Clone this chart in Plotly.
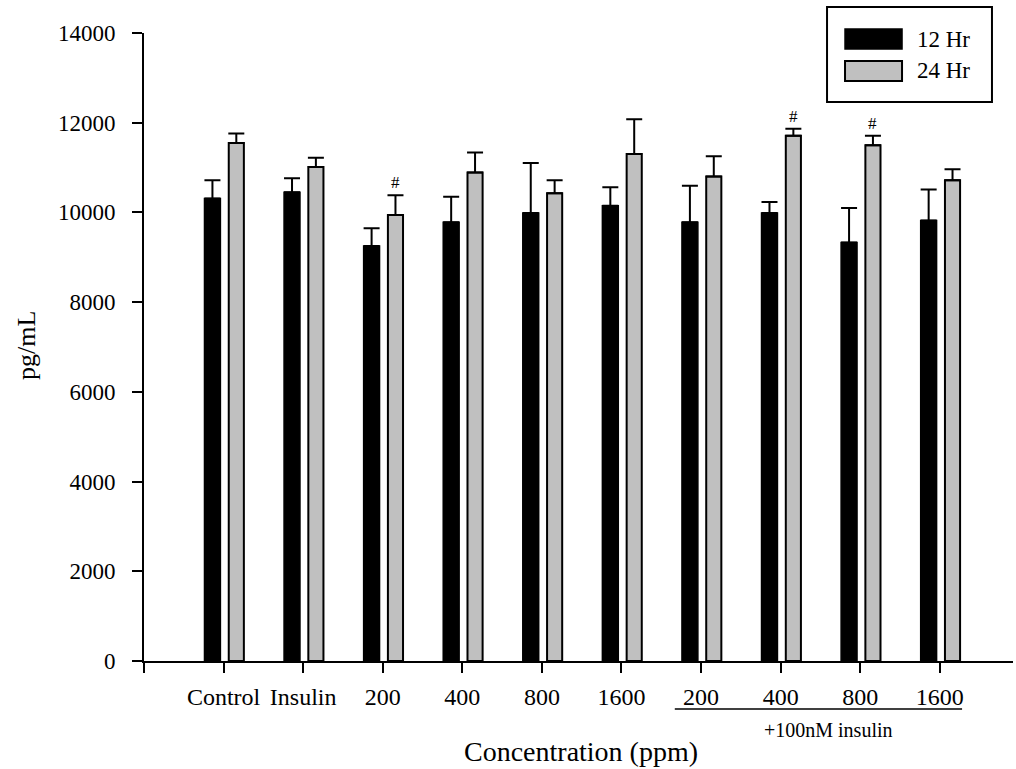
import plotly.graph_objects as go

# Treatment groups along the x axis (last four are co-treated with insulin)
categories = ["Control", "Insulin", "200", "400", "800", "1600", "200", "400", "800", "1600"]
series_names = ["12 Hr", "24 Hr"]

# Mean concentration (pg/mL) and upper error (SD) per group
values_12h = [10310, 10450, 9250, 9780, 9990, 10150, 9780, 9990, 9330, 9820]
errors_12h = [410, 310, 400, 570, 1110, 410, 815, 240, 770, 690]
values_24h = [11550, 11010, 9940, 10890, 10430, 11300, 10800, 11710, 11500, 10715]
errors_24h = [210, 210, 445, 445, 290, 780, 455, 155, 210, 250]

# Groups marked as significant at 24 h
significant_24h = [2, 7, 8]

FONT = "Liberation Serif"
GREY = "#c0c0c0"

x_pos = list(range(len(categories)))

fig = go.Figure()

fig.add_trace(go.Bar(
    x=x_pos, y=values_12h, name=series_names[0],
    width=0.2, offset=-0.24,
    marker=dict(color="black", line=dict(color="black", width=1.5)),
    error_y=dict(type="data", array=errors_12h, arrayminus=[0] * len(errors_12h),
                 symmetric=False, color="black", thickness=2, width=8),
    showlegend=False,
))
fig.add_trace(go.Bar(
    x=x_pos, y=values_24h, name=series_names[1],
    width=0.19, offset=0.065,
    marker=dict(color=GREY, line=dict(color="black", width=2)),
    error_y=dict(type="data", array=errors_24h, arrayminus=[0] * len(errors_24h),
                 symmetric=False, color="black", thickness=2, width=8),
    showlegend=False,
))

annotations = []
for i in significant_24h:
    annotations.append(dict(
        x=i + 0.16, y=values_24h[i] + errors_24h[i], xref="x", yref="y",
        text="#", showarrow=False, yanchor="bottom", yshift=1,
        font=dict(family=FONT, size=17, color="black"),
    ))

# Axis titles
annotations.append(dict(
    x=0.503, y=-0.172, xref="paper", yref="paper", text="Concentration (ppm)",
    showarrow=False, xanchor="center", yanchor="bottom",
    font=dict(family=FONT, size=28, color="black"),
))
annotations.append(dict(
    x=-0.136, y=0.503, xref="paper", yref="paper", text="pg/mL", textangle=-90,
    showarrow=False, xanchor="center", yanchor="middle",
    font=dict(family=FONT, size=26, color="black"),
))
# Co-treatment bracket label
annotations.append(dict(
    x=7.6, y=-0.11, xref="x", yref="paper", text="+100nM insulin",
    showarrow=False, xanchor="center", yanchor="middle",
    font=dict(family=FONT, size=20, color="black"),
))

# Legend entries
legend_text_y = [0.9904, 0.9395]
for name, ty in zip(series_names, legend_text_y):
    annotations.append(dict(
        x=0.8872, y=ty, xref="paper", yref="paper", text=name,
        showarrow=False, xanchor="left", yanchor="middle",
        font=dict(family=FONT, size=23, color="black"),
    ))

shapes = [
    # bracket under the insulin co-treatment groups
    dict(type="line", xref="x", yref="paper", x0=5.67, x1=9.28, y0=-0.0764, y1=-0.0764,
         line=dict(color="black", width=1.5)),
    # legend frame and swatches
    dict(type="rect", xref="paper", yref="paper", x0=0.786, x1=0.9758, y0=0.890, y1=1.0414,
         line=dict(color="black", width=2), fillcolor="white", layer="above"),
    dict(type="rect", xref="paper", yref="paper", x0=0.8067, x1=0.8723, y0=0.9745, y1=1.0064,
         line=dict(color="black", width=1.5), fillcolor="black", layer="above"),
    dict(type="rect", xref="paper", yref="paper", x0=0.8067, x1=0.8723, y0=0.9236, y1=0.9554,
         line=dict(color="black", width=2), fillcolor=GREY, layer="above"),
]

fig.update_layout(
    width=1016, height=769,
    margin=dict(l=144, r=3, t=33, b=108),
    paper_bgcolor="white", plot_bgcolor="white",
    barmode="overlay",
    font=dict(family=FONT, color="black"),
    annotations=annotations,
    shapes=shapes,
)
fig.update_xaxes(
    range=[-1, 9.92],
    tickmode="array",
    tickvals=[-1] + x_pos,
    ticktext=[""] + categories,
    showline=True, linecolor="black", linewidth=2,
    ticks="outside", ticklen=10, tickwidth=2, tickcolor="black",
    showgrid=False, zeroline=False,
    tickfont=dict(family=FONT, size=24, color="black"),
    ticklabelstandoff=3,
)
fig.update_yaxes(
    range=[0, 14000], dtick=2000, tick0=0, tickformat="d",
    showline=True, linecolor="black", linewidth=2,
    ticks="outside", ticklen=10, tickwidth=2, tickcolor="black",
    showgrid=False, zeroline=False,
    tickfont=dict(family=FONT, size=23, color="black"),
    ticklabelstandoff=12,
)

fig.write_html("out.html")
